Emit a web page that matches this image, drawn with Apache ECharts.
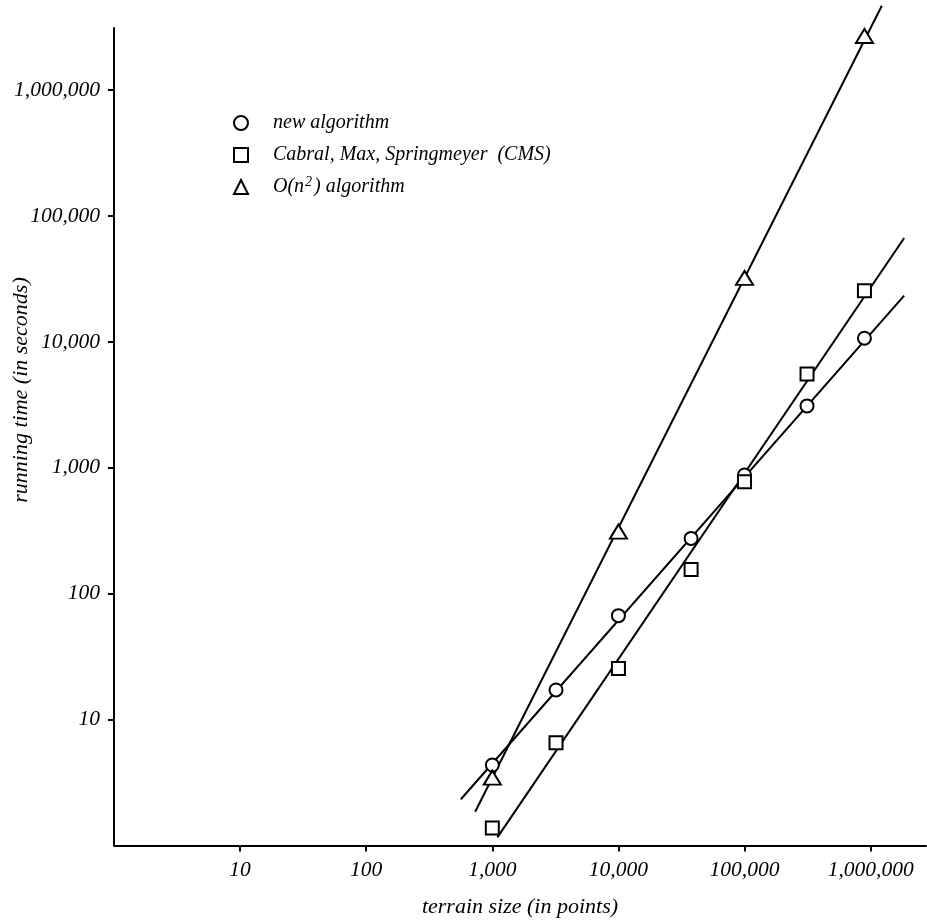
<!DOCTYPE html>
<html>
<head>
<meta charset="utf-8">
<script src="https://cdn.jsdelivr.net/npm/echarts@6/dist/echarts.min.js"></script>
<style>html,body{margin:0;padding:0;background:#fff}#c{width:927px;height:921px}</style>
</head>
<body>
<div id="c"></div>
<script>
// terrain sizes (points) for the measured runs
const sizes = [1000, 3200, 10000, 37700, 100000, 313000, 893000];
// running times (seconds)
const newAlgo = [4.36, 17.2, 66.9, 275, 877, 3100, 10700];
const cms = [1.38, 6.55, 25.5, 156, 776, 5560, 25500];
const quadSizes = [1000, 10000, 100000, 893000];
const quad = [3.46, 311, 32200, 2690000];
// fitted lines: [size, time] end points
const newFit = [[563, 2.33], [1845000, 23300]];
const cmsFit = [[1097, 1.16], [1845000, 66900]];
const quadFit = [[731, 1.855], [1227000, 4680000]];
// axis ranges and tick values
const xRange = [1, 2748000];
const yRange = [1, 3112000];
const tickValues = [10, 100, 1000, 10000, 100000, 1000000];
const names = ['new algorithm', 'Cabral, Max, Springmeyer  (CMS)', 'O(n2) algorithm'];
const xTitle = 'terrain size (in points)';
const yTitle = 'running time (in seconds)';

const L = Math.log10;
const FONT = '"Liberation Serif", "Times New Roman", serif';
const pts = (xs, ys) => xs.map((x, i) => [L(x), L(ys[i])]);
const fit = arr => arr.map(p => [L(p[0]), L(p[1])]);
const tickExp = tickValues.map(L);
const fmt = v => Math.round(Math.pow(10, v)).toLocaleString('en-US');

const axisCommon = {
  type: 'value',
  interval: 1,
  axisLine: { show: true, lineStyle: { color: '#000', width: 2 } },
  axisTick: { show: true, length: 6, lineStyle: { color: '#000', width: 2 }, customValues: tickExp },
  splitLine: { show: false },
  nameLocation: 'middle'
};
const nameFont = { fontFamily: FONT, fontStyle: 'italic', fontSize: 22, color: '#000' };
const labelCommon = { fontFamily: FONT, fontStyle: 'italic', fontSize: 21.5, color: '#000', customValues: tickExp, formatter: fmt };

const markerStyle = { color: '#fff', borderColor: '#000', borderWidth: 2, opacity: 1 };
const lineStyle = { color: '#000', width: 2 };

const chart = echarts.init(document.getElementById('c'), null, { renderer: 'canvas' });
chart.setOption({
  animation: false,
  backgroundColor: '#fff',
  grid: { left: 114, right: 1, top: 28, bottom: 75.5, containLabel: false, outerBoundsMode: 'none' },
  xAxis: Object.assign({}, axisCommon, {
    min: L(xRange[0]), max: L(xRange[1]),
    name: xTitle, nameGap: 51,
    nameTextStyle: nameFont,
    axisLabel: Object.assign({}, labelCommon, { margin: 14 })
  }),
  yAxis: Object.assign({}, axisCommon, {
    min: L(yRange[0]), max: L(yRange[1]),
    axisLabel: Object.assign({}, labelCommon, { margin: 14 })
  }),
  graphic: [{
    type: 'text', x: 21, y: 390, rotation: Math.PI / 2, silent: true,
    style: { text: yTitle, align: 'center', verticalAlign: 'middle',
      font: 'italic 22px ' + FONT, fill: '#000' }
  }],
  legend: {
    orient: 'vertical', left: 233, top: 111, padding: 0,
    itemWidth: 14, itemHeight: 14, itemGap: 8,
    data: names,
    formatter: n => n === names[2] ? '{a|O(n}{s|2}{a|) algorithm}' : n,
    textStyle: {
      fontFamily: FONT, fontStyle: 'italic', fontSize: 20, color: '#000', lineHeight: 24,
      padding: [0, 0, 0, 20],
      rich: {
        a: { fontFamily: FONT, fontStyle: 'italic', fontSize: 20, color: '#000', lineHeight: 24 },
        s: { fontFamily: FONT, fontSize: 14, color: '#000', lineHeight: 14, verticalAlign: 'top', padding: [0, 2, 0, 1] }
      }
    }
  },
  series: [
    { type: 'line', data: fit(newFit), symbol: 'none', lineStyle, clip: false, silent: true, z: 2 },
    { type: 'line', data: fit(cmsFit), symbol: 'none', lineStyle, clip: false, silent: true, z: 2 },
    { type: 'line', data: fit(quadFit), symbol: 'none', lineStyle, clip: false, silent: true, z: 2 },
    { name: names[0], type: 'scatter', data: pts(sizes, newAlgo), symbol: 'circle', symbolSize: 13, itemStyle: markerStyle, z: 5, clip: false },
    { name: names[1], type: 'scatter', data: pts(sizes, cms), symbol: 'rect', symbolSize: 13, itemStyle: markerStyle, z: 5, clip: false },
    { name: names[2], type: 'scatter', data: pts(quadSizes, quad), symbol: 'triangle', symbolSize: [17, 14], itemStyle: markerStyle, z: 5, clip: false }
  ]
});
</script>
</body>
</html>
